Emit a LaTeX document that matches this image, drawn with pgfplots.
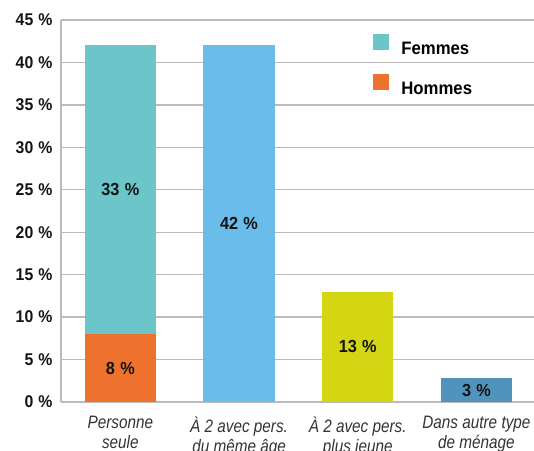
\documentclass[border=0pt]{standalone}
\usepackage{pgfplots}
\pgfplotsset{compat=1.18}
\usepackage{fontspec}
\setmainfont{Liberation Sans}
\newfontfamily\condfont[FakeStretch=0.85]{Liberation Sans}
\newfontfamily\labfont[FakeStretch=0.93]{Liberation Sans}

\definecolor{femmes}{HTML}{6CC5C8}
\definecolor{hommes}{HTML}{EE722E}
\definecolor{blueb}{HTML}{6ABDEB}
\definecolor{yellowb}{HTML}{D4D614}
\definecolor{steelb}{HTML}{5093BC}
\definecolor{gridc}{HTML}{BBBBBB}
\definecolor{labc}{HTML}{333333}

\begin{document}
\begin{tikzpicture}
\begin{axis}[
    scale only axis, width=473pt, height=382pt,
    xmin=-0.5, xmax=3.485, ymin=0, ymax=45,
    ytick={0,5,...,45},
    xtick={0,1,2,3},
    xticklabels={Personne\\seule, À 2 avec pers.\\du même âge, À 2 avec pers.\\plus jeune, Dans autre type\\de ménage},
    xticklabel style={align=center, text=labc, yshift=-11pt,
        font=\condfont\itshape\fontsize{18}{20}\selectfont},
    yticklabel={\pgfmathprintnumber{\tick}\hspace{0.3em}\%},
    yticklabel style={font=\labfont\bfseries\fontsize{17}{18}\selectfont, text=black!92, xshift=-5pt},
    /pgf/number format/assume math mode=true,
    major tick length=0pt,
    ymajorgrids, grid style={gridc, line width=1.3pt},
    axis x line*=bottom, axis y line*=left,
    axis line style={-, draw=gridc, line width=1.3pt},
    ybar, bar width=0.6, bar shift=0pt,
    legend image code/.code={\fill[#1] (0pt,-1pt) rectangle (16pt,15pt);},
    legend style={draw=none, fill=none, at={(0.66,0.963)}, anchor=north west,
        inner sep=0pt, row sep=16pt, font=\labfont\bfseries\fontsize{18}{18}\selectfont,
        cells={anchor=west},
        /tikz/every odd column/.append style={column sep=10pt}},
]
\addplot[fill=femmes, draw=none] coordinates {(0,42)};
\addlegendentry{Femmes}
\addplot[fill=hommes, draw=none] coordinates {(0,8)};
\addlegendentry{Hommes}
\addplot[fill=blueb, draw=none, forget plot] coordinates {(1,42)};
\addplot[fill=yellowb, draw=none, forget plot] coordinates {(2,13)};
\addplot[fill=steelb, draw=none, forget plot] coordinates {(3,2.8)};
\begin{scope}[every node/.style={font=\labfont\bfseries\fontsize{17.5}{20}\selectfont, text=black!92}]
\node at (axis cs:0,25) {33\hspace{0.3em}\%};
\node at (axis cs:0,4) {8\hspace{0.3em}\%};
\node at (axis cs:1,21) {42\hspace{0.3em}\%};
\node at (axis cs:2,6.5) {13\hspace{0.3em}\%};
\node at (axis cs:3,1.4) {3\hspace{0.3em}\%};
\end{scope}
\end{axis}
\pgfresetboundingbox
\useasboundingbox (-61pt,-48pt) rectangle (473pt,402pt);
\end{tikzpicture}
\end{document}
